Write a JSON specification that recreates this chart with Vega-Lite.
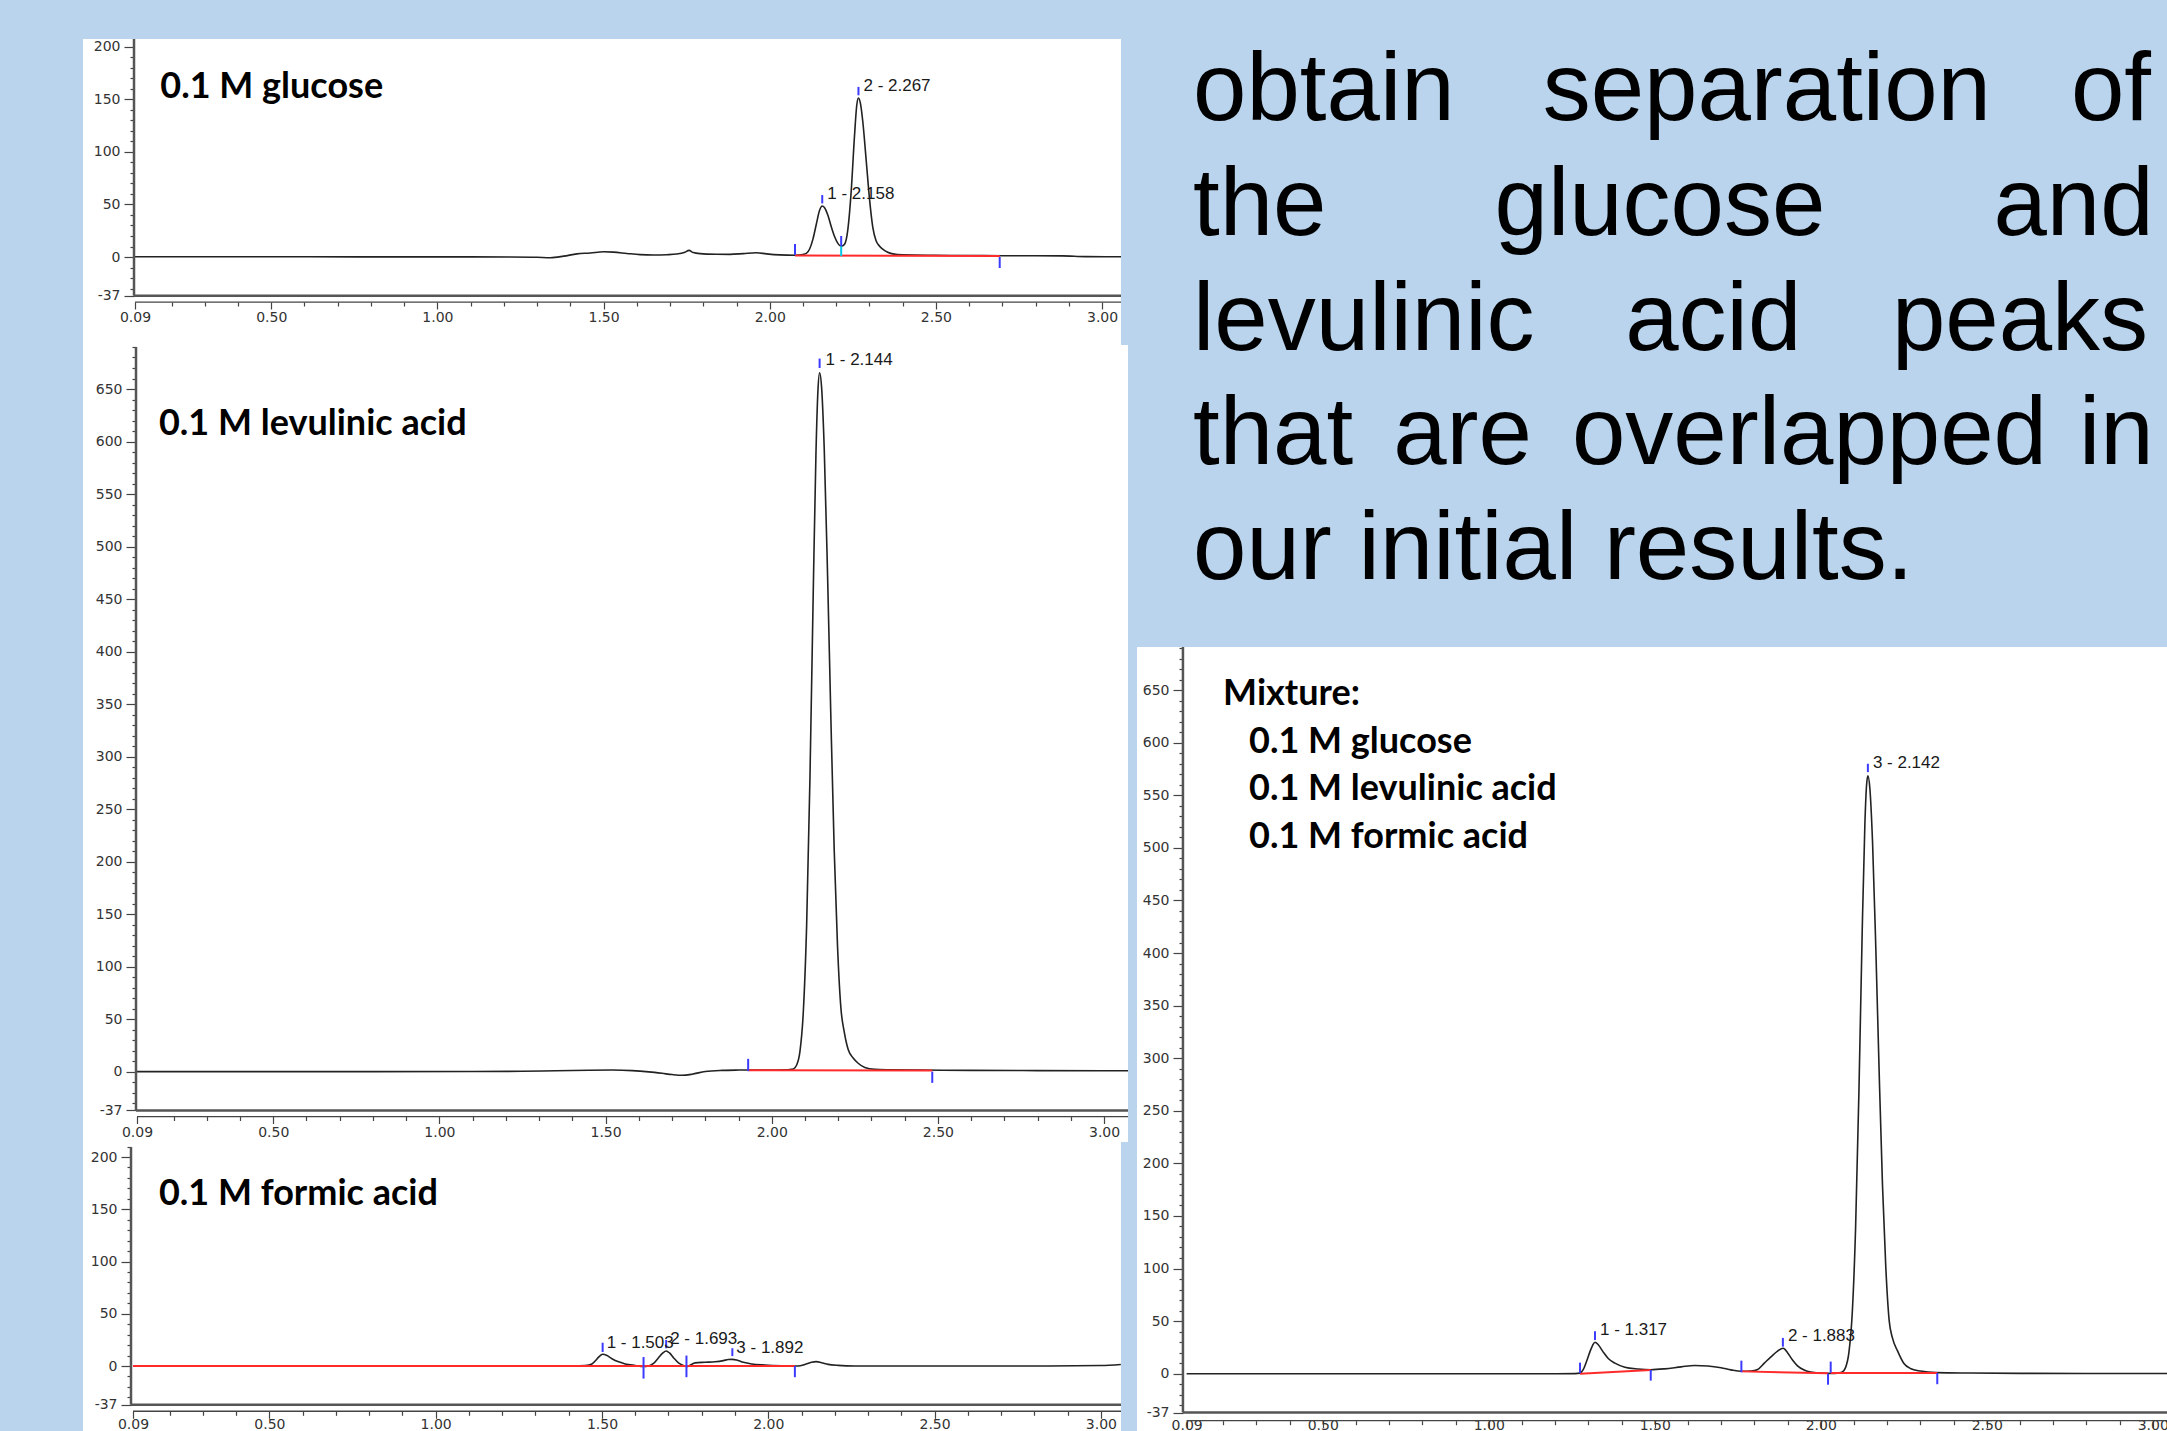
{
  "$schema": "https://vega.github.io/schema/vega-lite/v6.json",
  "background": "#b9d4ec",
  "padding": {"left": 83, "top": 37, "right": 0, "bottom": 0},
  "config": {"view": {"stroke": null}, "concat": {"spacing": 0}, "axis": {"labelOverlap": false, "labelFont": "DejaVu Sans", "labelFontSize": 14, "labelColor": "#333"}},
  "datasets": {
    "p1": [
      {"t":0.09,"v":0.3},{"t":0.3,"v":0.2},{"t":0.6,"v":0.2},{"t":0.9,"v":0.1},{"t":1.1,"v":0.1},{"t":1.22,"v":0},
      {"t":1.30,"v":-0.3},{"t":1.34,"v":-0.7},{"t":1.38,"v":0.8},{"t":1.42,"v":3.0},{"t":1.46,"v":3.8},{"t":1.50,"v":5.0},
      {"t":1.53,"v":4.6},{"t":1.57,"v":3.4},{"t":1.61,"v":2.3},{"t":1.65,"v":1.9},{"t":1.69,"v":2.2},{"t":1.72,"v":2.8},
      {"t":1.745,"v":4.5},{"t":1.757,"v":6.3},{"t":1.77,"v":4.2},{"t":1.79,"v":3.2},{"t":1.84,"v":2.6},{"t":1.88,"v":2.5},
      {"t":1.92,"v":3.2},{"t":1.96,"v":4.0},{"t":1.99,"v":3.0},{"t":2.03,"v":2.0},{"t":2.076,"v":1.6},{"t":2.10,"v":2.4},
      {"t":2.11,"v":3.4},{"t":2.12,"v":7.6},{"t":2.13,"v":17},{"t":2.14,"v":31},{"t":2.15,"v":44.5},{"t":2.158,"v":48.6},
      {"t":2.165,"v":46.9},{"t":2.175,"v":39.7},{"t":2.185,"v":29},{"t":2.195,"v":19.5},{"t":2.205,"v":13},{"t":2.215,"v":10.2},
      {"t":2.225,"v":12},{"t":2.235,"v":26},{"t":2.245,"v":62},{"t":2.255,"v":115},{"t":2.262,"v":145},{"t":2.267,"v":151.4},
      {"t":2.273,"v":146},{"t":2.28,"v":129},{"t":2.29,"v":93},{"t":2.30,"v":56},{"t":2.31,"v":28.5},{"t":2.32,"v":15.5},
      {"t":2.33,"v":10.5},{"t":2.34,"v":7.5},{"t":2.355,"v":4.5},{"t":2.37,"v":3.0},{"t":2.40,"v":2.0},{"t":2.50,"v":1.6},
      {"t":2.60,"v":1.4},{"t":2.70,"v":1.2},{"t":2.80,"v":1.2},{"t":2.88,"v":1.1},{"t":2.95,"v":0.4},{"t":3.057,"v":0.2}
    ],
    "p1m": [{"t":2.076,"a":2,"b":12.4},{"t":2.158,"a":51,"b":59},{"t":2.267,"a":154,"b":162},{"t":2.215,"a":10.5,"b":20},{"t":2.692,"a":0,"b":-10.5}],
    "p1c": [{"t":2.215,"a":0.8,"b":10.2}],
    "p1r": [{"t1":2.076,"v1":1.5,"t2":2.692,"v2":1.0}],
    "p1l": [{"t":2.158,"v":60,"label":"1 - 2.158"},{"t":2.267,"v":163,"label":"2 - 2.267"}],
    "p2": [
      {"t":0.09,"v":0},{"t":0.4,"v":0},{"t":0.8,"v":0},{"t":1.1,"v":0.1},{"t":1.25,"v":0.3},{"t":1.35,"v":0.8},{"t":1.45,"v":1.3},
      {"t":1.52,"v":1.5},{"t":1.58,"v":1.0},{"t":1.63,"v":-0.2},{"t":1.67,"v":-1.6},{"t":1.70,"v":-2.8},{"t":1.73,"v":-3.5},
      {"t":1.76,"v":-2.5},{"t":1.80,"v":0.2},{"t":1.85,"v":1.2},{"t":1.90,"v":1.5},{"t":1.95,"v":1.6},{"t":2.00,"v":1.6},
      {"t":2.04,"v":1.8},{"t":2.055,"v":2.1},{"t":2.065,"v":2.6},{"t":2.075,"v":6.3},{"t":2.085,"v":19.5},{"t":2.095,"v":57},
      {"t":2.105,"v":139.5},{"t":2.115,"v":280},{"t":2.125,"v":459},{"t":2.133,"v":588},{"t":2.139,"v":648.5},{"t":2.144,"v":665.5},
      {"t":2.150,"v":651.5},{"t":2.158,"v":592.5},{"t":2.168,"v":472.5},{"t":2.178,"v":335.5},{"t":2.188,"v":210.5},{"t":2.198,"v":119},
      {"t":2.208,"v":61},{"t":2.218,"v":38},{"t":2.23,"v":21},{"t":2.245,"v":13},{"t":2.26,"v":8},{"t":2.28,"v":4},{"t":2.31,"v":2.2},
      {"t":2.35,"v":1.8},{"t":2.45,"v":1.5},{"t":2.6,"v":1.2},{"t":2.8,"v":1.0},{"t":3.0,"v":0.8},{"t":3.072,"v":0.8}
    ],
    "p2m": [{"t":1.929,"a":0.5,"b":12.2},{"t":2.144,"a":670,"b":679},{"t":2.483,"a":0,"b":-10.7}],
    "p2r": [{"t1":1.929,"v1":1.4,"t2":2.483,"v2":1.2}],
    "p2l": [{"t":2.144,"v":678,"label":"1 - 2.144"}],
    "p3": [
      {"t":0.09,"v":0},{"t":0.5,"v":0},{"t":1.0,"v":0},{"t":1.3,"v":0},{"t":1.40,"v":0.2},{"t":1.45,"v":0.5},{"t":1.47,"v":2.0},
      {"t":1.48,"v":5.0},{"t":1.49,"v":8.5},{"t":1.502,"v":11.2},{"t":1.515,"v":10.0},{"t":1.53,"v":7.0},{"t":1.55,"v":4.0},
      {"t":1.57,"v":2.0},{"t":1.60,"v":0.5},{"t":1.625,"v":-0.5},{"t":1.64,"v":0},{"t":1.655,"v":2.5},{"t":1.67,"v":8},
      {"t":1.683,"v":12.5},{"t":1.693,"v":14.4},{"t":1.703,"v":12.5},{"t":1.715,"v":8},{"t":1.73,"v":3.0},{"t":1.745,"v":0.5},
      {"t":1.755,"v":-0.5},{"t":1.765,"v":0.8},{"t":1.78,"v":3.0},{"t":1.81,"v":3.6},{"t":1.84,"v":4.1},{"t":1.865,"v":5.2},
      {"t":1.88,"v":6.2},{"t":1.892,"v":6.4},{"t":1.905,"v":5.8},{"t":1.925,"v":3.6},{"t":1.95,"v":2.0},{"t":1.99,"v":1.0},
      {"t":2.04,"v":0.3},{"t":2.09,"v":0},{"t":2.11,"v":1.5},{"t":2.13,"v":3.6},{"t":2.144,"v":4.2},{"t":2.16,"v":3.2},
      {"t":2.18,"v":1.6},{"t":2.21,"v":0.6},{"t":2.26,"v":0},{"t":2.5,"v":0},{"t":2.8,"v":0},{"t":3.0,"v":0.5},{"t":3.06,"v":1.5}
    ],
    "p3m": [{"t":1.502,"a":13.4,"b":22.3},{"t":1.693,"a":17,"b":25},{"t":1.892,"a":9.5,"b":17},{"t":1.625,"a":8.6,"b":-12},{"t":1.754,"a":10,"b":-10.7},{"t":2.08,"a":0,"b":-10.7}],
    "p3r": [{"t1":0.09,"v1":0,"t2":2.08,"v2":0}],
    "p3l": [{"t":1.502,"v":22.5,"label":"1 - 1.503"},{"t":1.693,"v":25.4,"label":"2 - 1.693"},{"t":1.892,"v":17.7,"label":"3 - 1.892"}],
    "p4": [
      {"t":0.09,"v":0},{"t":0.4,"v":0},{"t":0.8,"v":0},{"t":1.1,"v":0},{"t":1.2,"v":0},{"t":1.26,"v":0.1},{"t":1.275,"v":0.5},
      {"t":1.285,"v":4},{"t":1.295,"v":12},{"t":1.305,"v":21},{"t":1.313,"v":27},{"t":1.320,"v":29.9},{"t":1.33,"v":27.5},
      {"t":1.345,"v":20.5},{"t":1.36,"v":14.5},{"t":1.38,"v":10},{"t":1.41,"v":6.2},{"t":1.45,"v":4.5},{"t":1.488,"v":3.8},
      {"t":1.53,"v":4.6},{"t":1.58,"v":6.5},{"t":1.62,"v":7.8},{"t":1.66,"v":7.3},{"t":1.70,"v":5.6},{"t":1.73,"v":3.6},
      {"t":1.76,"v":2.3},{"t":1.79,"v":2.5},{"t":1.81,"v":4},{"t":1.83,"v":10},{"t":1.85,"v":16},{"t":1.87,"v":21.5},
      {"t":1.887,"v":24.2},{"t":1.90,"v":20},{"t":1.915,"v":13},{"t":1.93,"v":7.5},{"t":1.95,"v":3.5},{"t":1.97,"v":1.5},
      {"t":2.00,"v":0.6},{"t":2.03,"v":0.3},{"t":2.055,"v":0.8},{"t":2.065,"v":1.7},{"t":2.075,"v":6},{"t":2.085,"v":20.5},
      {"t":2.095,"v":58},{"t":2.105,"v":138.5},{"t":2.115,"v":267.5},{"t":2.125,"v":422},{"t":2.133,"v":523},{"t":2.138,"v":559.5},
      {"t":2.142,"v":568.5},{"t":2.148,"v":556.5},{"t":2.156,"v":506},{"t":2.166,"v":403.5},{"t":2.176,"v":286.5},{"t":2.186,"v":179.5},
      {"t":2.196,"v":101},{"t":2.206,"v":51},{"t":2.216,"v":34},{"t":2.231,"v":21.9},{"t":2.25,"v":10},{"t":2.27,"v":5},
      {"t":2.30,"v":2.5},{"t":2.35,"v":1.0},{"t":2.45,"v":0.6},{"t":2.6,"v":0.3},{"t":2.8,"v":0.2},{"t":3.055,"v":0.2}
    ],
    "p4m": [{"t":1.275,"a":0.5,"b":10.5},{"t":1.320,"a":32,"b":40.4},{"t":1.488,"a":3.5,"b":-6.6},{"t":1.761,"a":1.3,"b":12.4},{"t":1.886,"a":25.7,"b":34},{"t":2.022,"a":0,"b":-10.5},{"t":2.030,"a":1,"b":11.5},{"t":2.142,"a":572,"b":580},{"t":2.351,"a":0.6,"b":-10}],
    "p4r": [{"t1":1.275,"v1":0,"t2":1.488,"v2":3.5},{"t1":1.761,"v1":2.2,"t2":2.022,"v2":0.3},{"t1":2.030,"v1":0.6,"t2":2.351,"v2":0.6}],
    "p4l": [{"t":1.320,"v":41.3,"label":"1 - 1.317"},{"t":1.886,"v":35.9,"label":"2 - 1.883"},{"t":2.142,"v":581,"label":"3 - 2.142"}],
    "txt": [
      {"line":1,"text":"obtain\u00a0\u00a0\u00a0\u200aseparation\u00a0\u00a0\u00a0of"},
      {"line":2,"text":"the\u2003\u2002\u2005glucose\u2003\u2002\u2005and"},
      {"line":3,"text":"levulinic\u2002\u00a0\u2006acid\u2002\u00a0\u2006peaks"},
      {"line":4,"text":"that\u2004\u200aare\u2004\u200aoverlapped\u2004in"},
      {"line":5,"text":"our initial results."}
    ]
  },
  "spacing": 5,
  "hconcat": [
    {
      "spacing": 0,
      "vconcat": [
        {
          "width": 1038, "height": 306,
          "view": {"fill": "#ffffff", "stroke": null},
          "resolve": {"axis": {"x": "independent", "y": "independent"}},
          "layer": [
            {"data": {"name": "p1"}, "mark": {"type": "line", "color": "#222", "strokeWidth": 1.6, "interpolate": "monotone"},
             "encoding": {
               "x": {"field": "t", "type": "quantitative", "scale": {"domain": [-0.0665, 3.057], "nice": false, "zero": false},
                 "axis": {"orient": "bottom", "offset": -43, "title": null, "domain": false, "grid": false,
                   "values": [0.09,0.5,1,1.5,2,2.5,3], "tickSize": 7, "tickColor": "#444", "tickWidth": 1.2,
                   "labelExpr": "format(datum.value, '.2f')", "labelPadding": 8, "labelBaseline": "middle", "labelFlush": false}},
               "y": {"field": "v", "type": "quantitative", "scale": {"domain": [-83.8, 207.6], "nice": false, "zero": false},
                 "axis": {"orient": "left", "offset": -51, "title": null, "domain": false, "grid": false,
                   "values": [-37,0,50,100,150,200], "tickSize": 10, "tickColor": "#444", "tickWidth": 1.2,
                   "labelExpr": "'' + datum.value", "labelPadding": 4}}
             }},
            {"data": {"values": [{}]}, "mark": {"type": "rule", "color": "#555", "strokeWidth": 2.5},
             "encoding": {"x": {"datum": 0.087, "axis": null},
               "y": {"datum": -37, "axis": {"orient": "left", "offset": -51, "title": null, "domain": false, "grid": false, "labels": false,
                 "values": [-30,-20,-10,10,20,30,40,60,70,80,90,110,120,130,140,160,170,180,190], "tickSize": 4, "tickColor": "#444", "tickWidth": 1.2}},
               "y2": {"datum": 207.6}}},
            {"data": {"values": [{}]}, "mark": {"type": "rule", "color": "#555", "strokeWidth": 2.5},
             "encoding": {"x": {"datum": 0.087, "axis": {"orient": "bottom", "offset": -43, "title": null, "domain": false, "grid": false, "labels": false,
                 "values": [0.2,0.3,0.4,0.6,0.7,0.8,0.9,1.1,1.2,1.3,1.4,1.6,1.7,1.8,1.9,2.1,2.2,2.3,2.4,2.6,2.7,2.8,2.9], "tickSize": 4, "tickColor": "#444", "tickWidth": 1.2}},
               "x2": {"datum": 3.057}, "y": {"datum": -37, "axis": null}}},
            {"data": {"values": [{}]}, "mark": {"type": "rule", "color": "#444", "strokeWidth": 1.3},
             "encoding": {"x": {"datum": 0.09, "axis": null}, "x2": {"datum": 3.057}, "y": {"datum": -42.9, "axis": null}}},
            {"data": {"name": "p1r"}, "mark": {"type": "rule", "color": "#ff2a2a", "strokeWidth": 2},
             "encoding": {"x": {"field": "t1", "type": "quantitative", "axis": null}, "x2": {"field": "t2"}, "y": {"field": "v1", "type": "quantitative", "axis": null}, "y2": {"field": "v2"}}},
            {"data": {"name": "p1m"}, "mark": {"type": "rule", "color": "#3b3bff", "strokeWidth": 2},
             "encoding": {"x": {"field": "t", "type": "quantitative", "axis": null}, "y": {"field": "a", "type": "quantitative", "axis": null}, "y2": {"field": "b"}}},
            {"data": {"name": "p1c"}, "mark": {"type": "rule", "color": "#00c8e6", "strokeWidth": 2},
             "encoding": {"x": {"field": "t", "type": "quantitative", "axis": null}, "y": {"field": "a", "type": "quantitative", "axis": null}, "y2": {"field": "b"}}},
            {"data": {"name": "p1l"}, "mark": {"type": "text", "align": "left", "baseline": "middle", "dx": 5, "font": "Liberation Sans", "fontSize": 17, "color": "#1a1a1a"},
             "encoding": {"x": {"field": "t", "type": "quantitative", "axis": null}, "y": {"field": "v", "type": "quantitative", "axis": null}, "text": {"field": "label"}}},
            {"data": {"values": [{}]}, "mark": {"type": "text", "text": "0.1 M glucose", "align": "left", "baseline": "alphabetic", "font": "Lato", "fontWeight": "bold", "fontSize": 36, "color": "#000000"},
             "encoding": {"x": {"datum": 0.166, "axis": null}, "y": {"datum": 151.7, "axis": null}}}
          ]
        },
        {
          "width": 1045, "height": 797,
          "view": {"fill": "#ffffff", "stroke": null},
          "resolve": {"axis": {"x": "independent", "y": "independent"}},
          "layer": [
            {"data": {"name": "p2"}, "mark": {"type": "line", "color": "#222", "strokeWidth": 1.6, "interpolate": "monotone"},
             "encoding": {
               "x": {"field": "t", "type": "quantitative", "scale": {"domain": [-0.0725, 3.072], "nice": false, "zero": false},
                 "axis": {"orient": "bottom", "offset": -25.5, "title": null, "domain": false, "grid": false,
                   "values": [0.09,0.5,1,1.5,2,2.5,3], "tickSize": 7, "tickColor": "#444", "tickWidth": 1.2,
                   "labelExpr": "format(datum.value, '.2f')", "labelPadding": 8.5, "labelBaseline": "middle", "labelFlush": false}},
               "y": {"field": "v", "type": "quantitative", "scale": {"domain": [-67.0, 691.9], "nice": false, "zero": false},
                 "axis": {"orient": "left", "offset": -53, "title": null, "domain": false, "grid": false,
                   "values": [-37,0,50,100,150,200,250,300,350,400,450,500,550,600,650], "tickSize": 10, "tickColor": "#444", "tickWidth": 1.2,
                   "labelExpr": "'' + datum.value", "labelPadding": 4}}
             }},
            {"data": {"values": [{}]}, "mark": {"type": "rule", "color": "#555", "strokeWidth": 2.5},
             "encoding": {"x": {"datum": 0.087, "axis": null},
               "y": {"datum": -37, "axis": {"orient": "left", "offset": -53, "title": null, "domain": false, "grid": false, "labels": false,
                 "values": [-30,-20,-10,10,20,30,40,60,70,80,90,110,120,130,140,160,170,180,190,210,220,230,240,260,270,280,290,310,320,330,340,360,370,380,390,410,420,430,440,460,470,480,490,510,520,530,540,560,570,580,590,610,620,630,640,660,670,680,690], "tickSize": 4, "tickColor": "#444", "tickWidth": 1.2}},
               "y2": {"datum": 690}}},
            {"data": {"values": [{}]}, "mark": {"type": "rule", "color": "#555", "strokeWidth": 2.5},
             "encoding": {"x": {"datum": 0.087, "axis": {"orient": "bottom", "offset": -25.5, "title": null, "domain": false, "grid": false, "labels": false,
                 "values": [0.2,0.3,0.4,0.6,0.7,0.8,0.9,1.1,1.2,1.3,1.4,1.6,1.7,1.8,1.9,2.1,2.2,2.3,2.4,2.6,2.7,2.8,2.9], "tickSize": 4, "tickColor": "#444", "tickWidth": 1.2}},
               "x2": {"datum": 3.072}, "y": {"datum": -37, "axis": null}}},
            {"data": {"values": [{}]}, "mark": {"type": "rule", "color": "#444", "strokeWidth": 1.3},
             "encoding": {"x": {"datum": 0.09, "axis": null}, "x2": {"datum": 3.072}, "y": {"datum": -42.8, "axis": null}}},
            {"data": {"name": "p2r"}, "mark": {"type": "rule", "color": "#ff2a2a", "strokeWidth": 2},
             "encoding": {"x": {"field": "t1", "type": "quantitative", "axis": null}, "x2": {"field": "t2"}, "y": {"field": "v1", "type": "quantitative", "axis": null}, "y2": {"field": "v2"}}},
            {"data": {"name": "p2m"}, "mark": {"type": "rule", "color": "#3b3bff", "strokeWidth": 2},
             "encoding": {"x": {"field": "t", "type": "quantitative", "axis": null}, "y": {"field": "a", "type": "quantitative", "axis": null}, "y2": {"field": "b"}}},
            {"data": {"name": "p2l"}, "mark": {"type": "text", "align": "left", "baseline": "middle", "dx": 6, "font": "Liberation Sans", "fontSize": 17, "color": "#1a1a1a"},
             "encoding": {"x": {"field": "t", "type": "quantitative", "axis": null}, "y": {"field": "v", "type": "quantitative", "axis": null}, "text": {"field": "label"}}},
            {"data": {"values": [{}]}, "mark": {"type": "text", "text": "0.1 M levulinic acid", "align": "left", "baseline": "alphabetic", "font": "Lato", "fontWeight": "bold", "fontSize": 36, "color": "#000000"},
             "encoding": {"x": {"datum": 0.156, "axis": null}, "y": {"datum": 605.9, "axis": null}}}
          ]
        },
        {
          "width": 1038, "height": 291,
          "view": {"fill": "#ffffff", "stroke": null},
          "resolve": {"axis": {"x": "independent", "y": "independent"}},
          "layer": [
            {"data": {"name": "p3"}, "mark": {"type": "line", "color": "#222", "strokeWidth": 1.6, "interpolate": "monotone"},
             "encoding": {
               "x": {"field": "t", "type": "quantitative", "scale": {"domain": [-0.0603, 3.0605], "nice": false, "zero": false},
                 "axis": {"orient": "bottom", "offset": -21.7, "title": null, "domain": false, "grid": false,
                   "values": [0.09,0.5,1,1.5,2,2.5,3], "tickSize": 7, "tickColor": "#444", "tickWidth": 1.2,
                   "labelExpr": "format(datum.value, '.2f')", "labelPadding": 6, "labelBaseline": "middle", "labelFlush": false}},
               "y": {"field": "v", "type": "quantitative", "scale": {"domain": [-64.1, 214.4], "nice": false, "zero": false},
                 "axis": {"orient": "left", "offset": -48, "title": null, "domain": false, "grid": false,
                   "values": [-37,0,50,100,150,200], "tickSize": 10, "tickColor": "#444", "tickWidth": 1.2,
                   "labelExpr": "'' + datum.value", "labelPadding": 4}}
             }},
            {"data": {"values": [{}]}, "mark": {"type": "rule", "color": "#555", "strokeWidth": 2.5},
             "encoding": {"x": {"datum": 0.084, "axis": null},
               "y": {"datum": -37, "axis": {"orient": "left", "offset": -48, "title": null, "domain": false, "grid": false, "labels": false,
                 "values": [-30,-20,-10,10,20,30,40,60,70,80,90,110,120,130,140,160,170,180,190,210], "tickSize": 4, "tickColor": "#444", "tickWidth": 1.2}},
               "y2": {"datum": 209.6}}},
            {"data": {"values": [{}]}, "mark": {"type": "rule", "color": "#555", "strokeWidth": 2.5},
             "encoding": {"x": {"datum": 0.084, "axis": {"orient": "bottom", "offset": -21.7, "title": null, "domain": false, "grid": false, "labels": false,
                 "values": [0.2,0.3,0.4,0.6,0.7,0.8,0.9,1.1,1.2,1.3,1.4,1.6,1.7,1.8,1.9,2.1,2.2,2.3,2.4,2.6,2.7,2.8,2.9], "tickSize": 4, "tickColor": "#444", "tickWidth": 1.2}},
               "x2": {"datum": 3.0605}, "y": {"datum": -37, "axis": null}}},
            {"data": {"values": [{}]}, "mark": {"type": "rule", "color": "#444", "strokeWidth": 1.3},
             "encoding": {"x": {"datum": 0.09, "axis": null}, "x2": {"datum": 3.0605}, "y": {"datum": -43.3, "axis": null}}},
            {"data": {"name": "p3r"}, "mark": {"type": "rule", "color": "#ff2a2a", "strokeWidth": 2},
             "encoding": {"x": {"field": "t1", "type": "quantitative", "axis": null}, "x2": {"field": "t2"}, "y": {"field": "v1", "type": "quantitative", "axis": null}, "y2": {"field": "v2"}}},
            {"data": {"name": "p3m"}, "mark": {"type": "rule", "color": "#3b3bff", "strokeWidth": 2},
             "encoding": {"x": {"field": "t", "type": "quantitative", "axis": null}, "y": {"field": "a", "type": "quantitative", "axis": null}, "y2": {"field": "b"}}},
            {"data": {"name": "p3l"}, "mark": {"type": "text", "align": "left", "baseline": "middle", "dx": 4, "font": "Liberation Sans", "fontSize": 17, "color": "#1a1a1a"},
             "encoding": {"x": {"field": "t", "type": "quantitative", "axis": null}, "y": {"field": "v", "type": "quantitative", "axis": null}, "text": {"field": "label"}}},
            {"data": {"values": [{}]}, "mark": {"type": "text", "text": "0.1 M formic acid", "align": "left", "baseline": "alphabetic", "font": "Lato", "fontWeight": "bold", "fontSize": 36, "color": "#000000"},
             "encoding": {"x": {"datum": 0.168, "axis": null}, "y": {"datum": 154.4, "axis": null}}}
          ]
        }
      ]
    },
    {
      "spacing": 0,
      "vconcat": [
        {
          "width": 1034, "height": 606,
          "data": {"name": "txt"},
          "mark": {"type": "text", "align": "left", "baseline": "alphabetic", "font": "Liberation Sans", "fontSize": 96, "color": "#000000"},
          "encoding": {
            "x": {"datum": 0, "type": "quantitative", "scale": {"domain": [-0.0542, 0.9458], "nice": false, "zero": false}, "axis": null},
            "y": {"field": "line", "type": "quantitative", "scale": {"domain": [0.294, 5.575], "reverse": true, "nice": false, "zero": false}, "axis": null},
            "text": {"field": "text"}
          }
        },
        {
          "width": 1034, "height": 788,
          "view": {"fill": "#ffffff", "stroke": null},
          "resolve": {"axis": {"x": "independent", "y": "independent"}},
          "layer": [
            {"data": {"name": "p4"}, "mark": {"type": "line", "color": "#222", "strokeWidth": 1.6, "interpolate": "monotone"},
             "encoding": {
               "x": {"field": "t", "type": "quantitative", "scale": {"domain": [-0.0594, 3.055], "nice": false, "zero": false},
                 "axis": {"orient": "bottom", "offset": -14.3, "title": null, "domain": false, "grid": false,
                   "values": [0.09,0.5,1,1.5,2,2.5,3], "tickSize": 7, "tickColor": "#444", "tickWidth": 1.2,
                   "labelExpr": "format(datum.value, '.2f')", "labelPadding": 2, "labelBaseline": "alphabetic", "labelFlush": false}},
               "y": {"field": "v", "type": "quantitative", "scale": {"domain": [-58.3, 691], "nice": false, "zero": false},
                 "axis": {"orient": "left", "offset": -46, "title": null, "domain": false, "grid": false,
                   "values": [-37,0,50,100,150,200,250,300,350,400,450,500,550,600,650], "tickSize": 10, "tickColor": "#444", "tickWidth": 1.2,
                   "labelExpr": "'' + datum.value", "labelPadding": 4}}
             }},
            {"data": {"values": [{}]}, "mark": {"type": "rule", "color": "#555", "strokeWidth": 2.5},
             "encoding": {"x": {"datum": 0.079, "axis": null},
               "y": {"datum": -37, "axis": {"orient": "left", "offset": -46, "title": null, "domain": false, "grid": false, "labels": false,
                 "values": [-30,-20,-10,10,20,30,40,60,70,80,90,110,120,130,140,160,170,180,190,210,220,230,240,260,270,280,290,310,320,330,340,360,370,380,390,410,420,430,440,460,470,480,490,510,520,530,540,560,570,580,590,610,620,630,640,660,670,680,690], "tickSize": 4, "tickColor": "#444", "tickWidth": 1.2}},
               "y2": {"datum": 691}}},
            {"data": {"values": [{}]}, "mark": {"type": "rule", "color": "#555", "strokeWidth": 2.5},
             "encoding": {"x": {"datum": 0.079, "axis": {"orient": "bottom", "offset": -14.3, "title": null, "domain": false, "grid": false, "labels": false,
                 "values": [0.2,0.3,0.4,0.6,0.7,0.8,0.9,1.1,1.2,1.3,1.4,1.6,1.7,1.8,1.9,2.1,2.2,2.3,2.4,2.6,2.7,2.8,2.9], "tickSize": 4, "tickColor": "#444", "tickWidth": 1.2}},
               "x2": {"datum": 3.055}, "y": {"datum": -37, "axis": null}}},
            {"data": {"values": [{}]}, "mark": {"type": "rule", "color": "#444", "strokeWidth": 1.3},
             "encoding": {"x": {"datum": 0.09, "axis": null}, "x2": {"datum": 3.055}, "y": {"datum": -44.7, "axis": null}}},
            {"data": {"name": "p4r"}, "mark": {"type": "rule", "color": "#ff2a2a", "strokeWidth": 2},
             "encoding": {"x": {"field": "t1", "type": "quantitative", "axis": null}, "x2": {"field": "t2"}, "y": {"field": "v1", "type": "quantitative", "axis": null}, "y2": {"field": "v2"}}},
            {"data": {"name": "p4m"}, "mark": {"type": "rule", "color": "#3b3bff", "strokeWidth": 2},
             "encoding": {"x": {"field": "t", "type": "quantitative", "axis": null}, "y": {"field": "a", "type": "quantitative", "axis": null}, "y2": {"field": "b"}}},
            {"data": {"name": "p4l"}, "mark": {"type": "text", "align": "left", "baseline": "middle", "dx": 5, "font": "Liberation Sans", "fontSize": 17, "color": "#1a1a1a"},
             "encoding": {"x": {"field": "t", "type": "quantitative", "axis": null}, "y": {"field": "v", "type": "quantitative", "axis": null}, "text": {"field": "label"}}},
            {"data": {"values": [{}]}, "mark": {"type": "text", "text": "Mixture:", "align": "left", "baseline": "alphabetic", "font": "Lato", "fontWeight": "bold", "fontSize": 36, "color": "#000000"},
             "encoding": {"x": {"datum": 0.2, "axis": null}, "y": {"datum": 635.4, "axis": null}}},
            {"data": {"values": [{}]}, "mark": {"type": "text", "text": ["0.1 M glucose", "0.1 M levulinic acid", "0.1 M formic acid"], "lineHeight": 47.3, "align": "left", "baseline": "alphabetic", "font": "Lato", "fontWeight": "bold", "fontSize": 36, "color": "#000000"},
             "encoding": {"x": {"datum": 0.278, "axis": null}, "y": {"datum": 590.2, "axis": null}}}
          ]
        }
      ]
    }
  ]
}
